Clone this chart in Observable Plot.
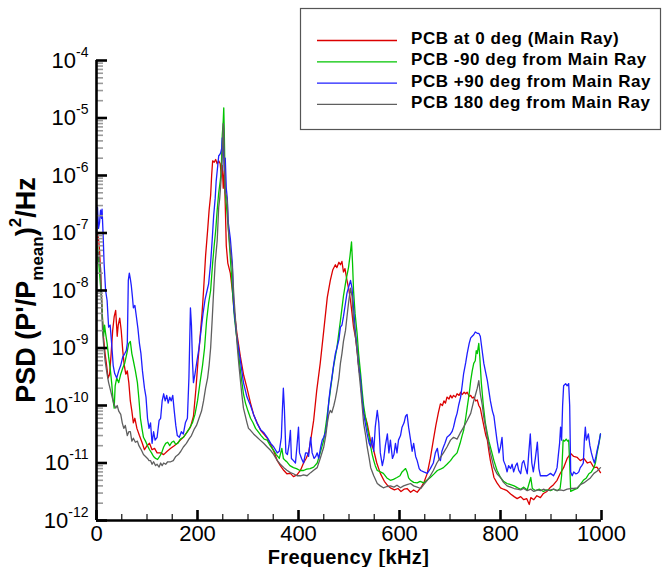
<!DOCTYPE html>
<html><head><meta charset="utf-8">
<style>body{margin:0;background:#fff}svg{display:block}</style>
<script src="https://cdn.jsdelivr.net/npm/d3@7"></script>
<script src="https://cdn.jsdelivr.net/npm/@observablehq/plot@0.6"></script>
</head><body><div id="chart"></div>
<script>
// ---- Data (frequency kHz, PSD value) ----
const seriesNames = ["PCB at 0 deg (Main Ray)", "PCB -90 deg from Main Ray", "PCB +90 deg from Main Ray", "PCB 180 deg from Main Ray"];
const seriesColors = ["#dc0000", "#00c400", "#1e1eff", "#5f5f5f"];
const xTickValues = [0, 200, 400, 600, 800, 1000];
const xMinorTicks = [50, 100, 150, 250, 300, 350, 450, 500, 550, 650, 700, 750, 850, 900, 950];
const yTickValues = [1e-12, 1e-11, 1e-10, 1e-9, 1e-8, 1e-7, 1e-6, 1e-5, 1e-4];
const yMinorMantissas = [2, 3, 4, 5, 6, 7, 8, 9];

const red = [[0,5e-8],[2,1e-7],[4,8e-8],[6,5e-8],[8,2.2e-8],[10,8e-9],[12,3e-9],[14,1.5e-9],[17,8e-10],[20,5e-10],[23,3e-10],[26,3.5e-10],[29,8e-10],[32,2e-9],[35,3.5e-9],[38,4.5e-9],[41,1.6e-9],[43,2.5e-9],[46,3.3e-9],[49,2e-9],[52,9e-10],[55,5e-10],[58,3.5e-10],[61,4e-10],[64,2.5e-10],[67,1.2e-10],[70,8e-11],[73,5e-11],[76,6e-11],[80,4e-11],[85,3e-11],[90,2.3e-11],[95,1.7e-11],[100,2e-11],[105,2.2e-11],[110,1.7e-11],[115,1.8e-11],[120,1.5e-11],[127,1.5e-11],[133,1.4e-11],[140,1.6e-11],[147,1.8e-11],[154,2e-11],[160,2.2e-11],[166,2.5e-11],[172,2.8e-11],[180,3.5e-11],[186,4.2e-11],[192,6.5e-11],[197,2e-10],[201,6e-10],[205,1.5e-9],[209,4e-9],[212,1e-8],[216,4e-8],[220,1.1e-7],[223,2.5e-7],[226,4.5e-7],[228,1e-6],[230,1.8e-6],[233,1.7e-6],[236,1.9e-6],[239,1.6e-6],[242,1.8e-6],[245,1.6e-6],[247,1e-6],[249,1.5e-6],[251,6e-7],[253,1.2e-6],[255,3e-7],[257,6e-8],[260,3e-8],[265,2e-8],[269,1e-8],[272,5e-9],[278,1.8e-9],[285,7e-10],[291,3.5e-10],[298,2e-10],[305,1.1e-10],[311,7e-11],[318,5e-11],[325,3.7e-11],[331,3.2e-11],[338,2.7e-11],[345,2.1e-11],[351,1.6e-11],[358,1.1e-11],[364,9e-12],[371,7.4e-12],[377,6.5e-12],[384,6.6e-12],[390,5.8e-12],[397,6.2e-12],[404,7.5e-12],[410,1e-11],[415,1.2e-11],[420,1.5e-11],[425,2.8e-11],[430,5.5e-11],[436,1.8e-10],[443,5.4e-10],[450,2e-9],[457,7.6e-9],[463,1.5e-8],[468,2.3e-8],[473,2.8e-8],[476,2.5e-8],[480,3.1e-8],[483,2.8e-8],[486,3.2e-8],[489,2.1e-8],[492,2.4e-8],[496,1.5e-8],[500,1e-8],[503,6.7e-9],[506,4e-9],[509,2.3e-9],[513,1.5e-9],[516,9e-10],[519,5e-10],[523,2.7e-10],[526,1.3e-10],[529,7.3e-11],[533,6e-11],[536,4.9e-11],[542,2.6e-11],[549,1.65e-11],[555,1e-11],[562,6.6e-12],[570,4.8e-12],[577,4e-12],[582,3.7e-12],[590,3.4e-12],[597,3.6e-12],[603,3.2e-12],[609,3.5e-12],[615,3.6e-12],[622,3.1e-12],[628,3.4e-12],[635,3.1e-12],[642,3.7e-12],[648,4.5e-12],[655,6.6e-12],[661,1.2e-11],[667,2.5e-11],[672,4.5e-11],[677,7.5e-11],[681,1.07e-10],[685,1e-10],[688,1.2e-10],[691,1.1e-10],[694,1.4e-10],[698,1.3e-10],[701,1.5e-10],[704,1.35e-10],[707,1.5e-10],[711,1.4e-10],[714,1.6e-10],[718,1.5e-10],[721,1.7e-10],[724,1.55e-10],[728,1.7e-10],[731,1.6e-10],[734,1.7e-10],[738,1.45e-10],[741,1.5e-10],[744,1.35e-10],[747,1.4e-10],[751,1.2e-10],[754,1.25e-10],[757,1e-10],[760,9e-11],[764,6e-11],[768,4e-11],[771,3e-11],[774,2.5e-11],[777,1.6e-11],[780,1.1e-11],[784,7.5e-12],[787,5.6e-12],[793,4.5e-12],[800,3.7e-12],[806,3.5e-12],[813,3.3e-12],[820,2.9e-12],[827,2.6e-12],[833,2.4e-12],[840,2.6e-12],[846,2.3e-12],[852,2.4e-12],[857,1.9e-12],[860,2.5e-12],[866,2.3e-12],[872,2.7e-12],[879,2.5e-12],[885,2.95e-12],[892,3.2e-12],[899,3.8e-12],[905,4.2e-12],[912,5e-12],[918,6.5e-12],[925,8.3e-12],[932,1.2e-11],[939,1.46e-11],[945,1.3e-11],[952,1.25e-11],[958,1.1e-11],[965,1.2e-11],[972,1e-11],[978,1.05e-11],[985,8.3e-12],[991,8.5e-12],[998,6.8e-12]];

const green = [[0,3e-8],[2,6e-8],[4,3.5e-8],[6,2e-8],[8,1.2e-8],[10,7e-9],[12,3e-9],[14,1.6e-9],[16,2.5e-9],[18,1.8e-9],[21,1.2e-9],[24,7e-10],[27,4.5e-10],[30,2.5e-10],[33,1.2e-10],[35,9e-11],[37,2.2e-10],[40,3e-10],[44,2.5e-10],[48,3.5e-10],[52,4.5e-10],[56,5.5e-10],[60,8e-10],[64,1.2e-9],[67,1.3e-9],[70,8e-10],[73,6e-10],[77,4e-10],[81,2.5e-10],[84,1.3e-10],[87,6e-11],[90,4e-11],[93,2.8e-11],[97,2.4e-11],[101,2e-11],[105,1.7e-11],[109,1.5e-11],[113,1.3e-11],[117,1.2e-11],[121,1.15e-11],[125,1.3e-11],[129,1.5e-11],[133,1.9e-11],[137,2.2e-11],[141,2.3e-11],[145,2e-11],[149,2.3e-11],[153,2.4e-11],[157,2.1e-11],[161,2.2e-11],[166,2.6e-11],[172,2.8e-11],[178,3.3e-11],[184,4e-11],[190,5e-11],[195,7e-11],[200,1.2e-10],[205,2.5e-10],[210,5e-10],[214,1e-9],[218,3e-9],[222,6e-9],[226,1e-8],[230,3e-8],[233,6e-8],[236,1.1e-7],[239,2.5e-7],[242,5e-7],[245,8e-7],[247,1.2e-6],[249,5e-6],[251,9e-6],[252,1.5e-5],[253,6e-6],[255,5e-7],[258,2.5e-7],[261,1.2e-7],[264,5e-8],[267,2e-8],[270,8e-9],[273,3.5e-9],[276,2e-9],[279,1.2e-9],[282,7e-10],[285,4e-10],[288,2.5e-10],[291,1.6e-10],[295,1.1e-10],[300,8e-11],[305,6e-11],[310,5e-11],[315,4e-11],[320,3.5e-11],[326,3e-11],[332,2.6e-11],[338,2.5e-11],[344,2e-11],[351,1.65e-11],[356,1.4e-11],[362,1.2e-11],[367,1.8e-11],[370,1.2e-11],[374,1.1e-11],[377,1.05e-11],[383,9e-12],[390,8.3e-12],[396,8e-12],[403,7.4e-12],[410,7.4e-12],[416,7.8e-12],[423,8e-12],[430,8.5e-12],[437,1e-11],[443,1.5e-11],[450,2.5e-11],[456,6e-11],[463,1.8e-10],[469,4.5e-10],[476,1e-9],[483,3e-9],[489,8e-9],[494,1.5e-8],[499,2.5e-8],[502,4e-8],[505,7e-8],[507,3e-8],[509,1e-8],[512,4e-9],[516,1.8e-9],[519,8e-10],[523,3.6e-10],[526,1.8e-10],[529,1e-10],[533,6e-11],[536,4.2e-11],[540,2.8e-11],[543,1.9e-11],[546,1.4e-11],[549,1.1e-11],[552,9e-12],[556,7.4e-12],[562,7e-12],[568,6.6e-12],[575,5.5e-12],[582,5e-12],[588,5.2e-12],[595,5.6e-12],[601,6e-12],[605,7e-12],[608,7.4e-12],[612,8e-12],[615,7e-12],[618,5.5e-12],[622,5e-12],[628,4.6e-12],[635,4.5e-12],[641,4.8e-12],[648,4.5e-12],[654,5e-12],[661,5.6e-12],[668,6.4e-12],[675,7.4e-12],[681,7.8e-12],[687,8.3e-12],[694,9.5e-12],[701,1.1e-11],[707,1.3e-11],[714,1.5e-11],[720,2.2e-11],[724,3e-11],[727,3.7e-11],[731,6e-11],[734,9.2e-11],[738,1.6e-10],[741,2.7e-10],[744,4e-10],[747,5.4e-10],[750,6e-10],[752,9e-10],[754,8e-10],[757,1.2e-9],[759,7e-10],[762,2.5e-10],[766,1e-10],[770,5e-11],[774,3.2e-11],[777,2.4e-11],[780,1.9e-11],[784,1.4e-11],[787,1.1e-11],[793,7.5e-12],[800,5.6e-12],[806,4.8e-12],[813,4.4e-12],[820,4.2e-12],[827,4e-12],[834,3.7e-12],[840,3.5e-12],[846,3.8e-12],[853,3.4e-12],[860,5.6e-12],[863,3.6e-12],[870,3.3e-12],[877,3.5e-12],[885,3.2e-12],[892,3.4e-12],[899,3.3e-12],[905,3.5e-12],[912,3.3e-12],[918,3.6e-12],[921,6e-12],[924,2.5e-11],[927,2.4e-11],[930,2.6e-11],[933,2.4e-11],[935,2.5e-11],[937,1e-11],[939,3.2e-12],[945,3.4e-12],[952,3.6e-12],[958,4.2e-12],[964,5e-12],[970,5.5e-12],[975,6.5e-12],[980,7e-12],[985,8.3e-12],[988,1e-11],[991,1.45e-11],[995,2.2e-11],[998,3.2e-11]];

const blue = [[0,1e-7],[2,2.8e-7],[4,1.2e-7],[6,1.5e-7],[8,2.5e-7],[10,1.8e-7],[11,2.6e-7],[13,1e-7],[15,3e-8],[18,1e-8],[21,6.7e-9],[24,2.3e-9],[27,2.5e-9],[30,1.2e-9],[33,5e-10],[36,3.6e-10],[40,3e-10],[44,4e-10],[48,5e-10],[52,7e-10],[56,8e-10],[59,9e-10],[61,1.2e-9],[63,1.5e-8],[65,2e-8],[67,1.6e-8],[69,1.2e-8],[71,8e-9],[73,5e-9],[76,5.5e-9],[79,3.5e-9],[82,2.2e-9],[85,1.2e-9],[88,8e-10],[91,4e-10],[95,2e-10],[98,1.4e-10],[101,6e-11],[104,4e-11],[107,5e-11],[110,2.2e-11],[113,3.5e-11],[116,2.5e-11],[120,2.8e-11],[124,5.5e-11],[127,6e-11],[130,1.2e-10],[133,1.6e-10],[136,1.2e-10],[139,1.5e-10],[142,1.1e-10],[145,1.4e-10],[148,1.2e-10],[151,1.5e-10],[154,8e-11],[157,4.5e-11],[160,3e-11],[164,2.8e-11],[168,3.5e-11],[172,3.2e-11],[176,5e-11],[180,6e-11],[183,3e-10],[186,5e-9],[188,2.5e-9],[190,6e-10],[192,2.5e-10],[195,3.5e-10],[199,6e-10],[203,1e-9],[207,2e-9],[211,4e-9],[215,7e-9],[219,1e-8],[222,1.3e-8],[226,3e-8],[229,7.4e-8],[232,2e-7],[235,4e-7],[237,8e-7],[239,1.2e-6],[242,2.2e-6],[244,2.3e-6],[246,2.5e-6],[248,3e-6],[249,4.5e-6],[251,3.5e-6],[253,1.2e-6],[255,2e-6],[257,6e-7],[259,4e-7],[261,1.5e-7],[265,8e-8],[269,3e-8],[272,5e-9],[278,1.5e-9],[285,6e-10],[291,2.5e-10],[298,1.4e-10],[305,1e-10],[311,7e-11],[318,4.9e-11],[325,3.8e-11],[331,3.4e-11],[338,2.8e-11],[345,2.2e-11],[351,1.9e-11],[358,1.5e-11],[362,1.6e-11],[366,2.8e-11],[368,8e-11],[370,2e-10],[372,9e-11],[375,1.5e-11],[378,1.4e-11],[381,2e-11],[384,3.7e-11],[386,1.2e-11],[390,1.1e-11],[394,1e-11],[397,2e-11],[400,4.2e-11],[402,1.5e-11],[406,1.2e-11],[410,1e-11],[414,1.5e-11],[417,1.5e-11],[420,1.3e-11],[424,2.8e-11],[427,1.5e-11],[431,1.2e-11],[434,1.3e-11],[437,1.5e-11],[440,1.2e-11],[444,1.9e-11],[447,2.5e-11],[450,2.8e-11],[454,3.5e-11],[457,5.5e-11],[460,1.2e-10],[463,2e-10],[466,3e-10],[470,5.4e-10],[473,8e-10],[476,1e-9],[480,1.4e-9],[483,2.3e-9],[486,2.5e-9],[489,3.5e-9],[493,6e-9],[496,9e-9],[500,1.2e-8],[503,1.5e-8],[506,1.1e-8],[509,5e-9],[512,2.2e-9],[516,1e-9],[519,5e-10],[523,2.7e-10],[526,1.3e-10],[529,7.3e-11],[533,4.5e-11],[536,3.2e-11],[540,2.2e-11],[543,1.9e-11],[546,2.8e-11],[549,1.6e-11],[552,4.2e-11],[556,8.2e-11],[559,5e-11],[562,1.5e-11],[566,9e-12],[569,1.2e-11],[572,2e-11],[576,3.2e-11],[579,1.5e-11],[582,2.5e-11],[586,1.2e-11],[589,1.4e-11],[592,2.2e-11],[595,1.5e-11],[598,2.5e-11],[602,3e-11],[605,4.2e-11],[609,5e-11],[612,6.5e-11],[615,7e-11],[618,4.2e-11],[622,2.5e-11],[625,1.6e-11],[628,2.2e-11],[632,1.3e-11],[635,1.1e-11],[639,8e-12],[642,7.4e-12],[648,7e-12],[655,6.6e-12],[661,8e-12],[667,1e-11],[671,1.5e-11],[675,1.8e-11],[678,1.2e-11],[681,1.1e-11],[684,1.6e-11],[687,1.9e-11],[690,2.2e-11],[694,2.8e-11],[698,3e-11],[701,3.2e-11],[704,3.5e-11],[707,4.2e-11],[711,6e-11],[714,7.3e-11],[717,1e-10],[721,1.4e-10],[724,2.2e-10],[727,3.6e-10],[731,5.5e-10],[734,8e-10],[738,1.2e-9],[741,1.5e-9],[744,1.6e-9],[747,1.7e-9],[750,1.9e-9],[754,1.8e-9],[757,1.8e-9],[760,1.6e-9],[763,1e-9],[767,5.4e-10],[770,4e-10],[774,2.7e-10],[777,1.8e-10],[780,1.2e-10],[784,8e-11],[787,6.5e-11],[790,4e-11],[793,2.5e-11],[797,1.5e-11],[800,1.9e-11],[803,2.8e-11],[806,1.1e-11],[810,9e-12],[813,7e-12],[816,9e-12],[820,8e-12],[823,9.5e-12],[826,7e-12],[830,9e-12],[833,1e-11],[836,7.5e-12],[840,6.5e-12],[843,1e-11],[846,1.1e-11],[850,8e-12],[853,6.5e-12],[856,1.5e-11],[859,3.2e-11],[862,1e-11],[865,7e-12],[869,1.2e-11],[873,2.3e-11],[876,8e-12],[879,6e-12],[885,6e-12],[892,6e-12],[899,6.6e-12],[905,6e-12],[909,7e-12],[912,8.3e-12],[915,1.5e-11],[917,2.2e-11],[919,4.2e-11],[921,2.5e-11],[923,1e-10],[925,2.2e-10],[929,2.4e-10],[932,2.2e-10],[935,2.4e-10],[937,1e-10],[939,7e-12],[942,6e-12],[945,7e-12],[949,6.5e-12],[952,6.6e-12],[955,7e-12],[958,8.3e-12],[961,9e-12],[964,1e-11],[966,2.5e-11],[968,4.2e-11],[970,2.5e-11],[972,2.8e-11],[974,3.2e-11],[977,2e-11],[980,1.5e-11],[983,1.2e-11],[986,1e-11],[989,1.3e-11],[991,1.6e-11],[995,2.3e-11],[998,3.2e-11]];

const gray = [[0,3e-8],[2,4e-8],[4,4.6e-8],[6,3e-8],[8,2.5e-8],[10,6e-9],[12,2e-9],[14,1.2e-9],[17,6e-10],[21,3.5e-10],[24,2.5e-10],[28,1.8e-10],[31,1.4e-10],[34,1.1e-10],[38,9e-11],[41,1e-10],[44,8e-11],[48,7e-11],[51,5e-11],[54,4e-11],[57,4.5e-11],[61,3e-11],[64,3.5e-11],[67,3.5e-11],[70,2.4e-11],[73,2.7e-11],[77,2.3e-11],[81,2.4e-11],[84,2e-11],[87,1.8e-11],[90,1.6e-11],[93,1.4e-11],[97,1.3e-11],[101,1.2e-11],[104,1.1e-11],[107,1.1e-11],[110,9.5e-12],[113,1.05e-11],[117,9e-12],[120,9.5e-12],[124,8.5e-12],[127,1e-11],[130,9e-12],[133,1e-11],[137,9.5e-12],[141,1.05e-11],[147,1.05e-11],[152,1.1e-11],[157,1.3e-11],[162,1.4e-11],[167,1.6e-11],[172,1.9e-11],[178,2.2e-11],[183,2.6e-11],[188,3e-11],[193,3.8e-11],[198,4.5e-11],[203,6e-11],[208,8e-11],[212,1.2e-10],[216,2e-10],[220,3e-10],[223,5e-10],[226,1e-9],[229,3e-9],[232,1e-8],[235,3e-8],[239,7.4e-8],[242,2.8e-7],[244,4e-7],[246,7e-7],[248,1.2e-6],[249,2e-6],[251,8e-6],[252,6e-6],[253,2e-6],[255,5e-7],[257,4.5e-7],[259,3.5e-7],[261,1.2e-7],[265,5e-8],[269,2.5e-8],[272,8e-9],[276,2.5e-9],[279,1e-9],[282,5e-10],[285,2.7e-10],[288,1.5e-10],[291,9e-11],[294,7e-11],[298,5e-11],[301,4e-11],[305,3.7e-11],[311,3.2e-11],[318,2.8e-11],[324,2.5e-11],[331,2.2e-11],[338,1.9e-11],[345,1.65e-11],[351,1.4e-11],[358,1.1e-11],[364,9.5e-12],[371,8.3e-12],[377,7.5e-12],[384,6.8e-12],[390,6.5e-12],[397,6e-12],[404,6e-12],[410,6.2e-12],[417,6e-12],[424,6.8e-12],[430,7.5e-12],[437,8.3e-12],[443,1.2e-11],[450,1.9e-11],[454,3e-11],[457,4.9e-11],[460,7e-11],[463,8.2e-11],[466,7.5e-11],[470,1e-10],[473,1.3e-10],[476,1.8e-10],[480,3e-10],[483,5.4e-10],[486,8e-10],[489,1.3e-9],[493,2e-9],[496,3.5e-9],[499,6e-9],[503,1.1e-8],[506,8e-9],[509,3e-9],[512,1.8e-9],[516,9e-10],[519,4.5e-10],[523,2e-10],[526,1e-10],[529,4.9e-11],[533,3e-11],[536,1.9e-11],[540,1.2e-11],[543,8.3e-12],[549,6e-12],[556,4.4e-12],[562,4e-12],[568,3.7e-12],[575,3.9e-12],[582,4e-12],[589,3.8e-12],[595,4.1e-12],[602,3.7e-12],[608,4e-12],[615,4.2e-12],[622,4.4e-12],[628,4e-12],[635,3.8e-12],[642,3.6e-12],[648,4.2e-12],[655,5e-12],[661,6e-12],[667,7.4e-12],[674,1e-11],[681,1.25e-11],[687,1.5e-11],[694,1.9e-11],[701,2.5e-11],[707,2.8e-11],[714,2.6e-11],[720,3.3e-11],[727,4.2e-11],[734,5.5e-11],[741,7.3e-11],[747,1.2e-10],[751,1.6e-10],[754,2e-10],[757,2.7e-10],[760,1.6e-10],[764,1e-10],[767,6.2e-11],[771,4e-11],[774,2.8e-11],[780,1.5e-11],[787,8.3e-12],[793,6.5e-12],[800,5.6e-12],[806,4.6e-12],[813,4e-12],[820,3.8e-12],[827,3.6e-12],[833,3.5e-12],[840,3.4e-12],[846,3.6e-12],[853,3.3e-12],[860,3.5e-12],[866,3.2e-12],[873,3.4e-12],[879,3.3e-12],[885,3.5e-12],[892,3.3e-12],[899,3.4e-12],[905,3.5e-12],[912,3.3e-12],[918,3.4e-12],[925,3.3e-12],[932,3.5e-12],[939,3.6e-12],[945,3.6e-12],[952,3.7e-12],[958,4.2e-12],[965,4.5e-12],[972,5e-12],[978,5.5e-12],[985,6.6e-12],[991,7.2e-12],[998,8.3e-12]];

const allSeries = [red, green, blue, gray];
const yMinorTicks = yTickValues.slice(0, -1).flatMap(d => yMinorMantissas.map(m => m * d));

const W = 662, H = 567, ML = 96, MR = 61, MT = 60, MB = 47;
const plotW = W - ML - MR, plotH = H - MT - MB;
const FONT = "'Liberation Sans', Arial, Helvetica, sans-serif";

const chart = Plot.plot({
  width: W, height: H,
  marginLeft: ML, marginRight: MR, marginTop: MT, marginBottom: MB,
  style: {fontFamily: FONT, background: "#fff", color: "#000", overflow: "visible"},
  x: {domain: [0, 1000]},
  y: {type: "log", domain: [1e-12, 1e-4]},
  marks: [
    ...allSeries.map((s, i) => Plot.line(s, {x: d => d[0], y: d => d[1], stroke: seriesColors[i], strokeWidth: 1.3})),
    // minor/major ticks (inward)
    Plot.tickY(yMinorTicks, {y: d => d, stroke: "#9a9a9a", strokeWidth: 1.6, insetRight: plotW - 7}),
    Plot.tickY(yTickValues, {y: d => d, stroke: "#000", strokeWidth: 2.6, insetRight: plotW - 11}),
    Plot.tickX(xMinorTicks, {x: d => d, stroke: "#222", strokeWidth: 1.3, insetTop: plotH - 6}),
    Plot.tickX(xTickValues, {x: d => d, stroke: "#000", strokeWidth: 2.6, insetTop: plotH - 10}),
    Plot.ruleX([0], {stroke: "#000", strokeWidth: 2.6}),
    Plot.ruleY([1e-12], {stroke: "#000", strokeWidth: 2.6}),
    Plot.axisX({ticks: xTickValues, tickSize: 0, tickPadding: 5, fontSize: 22, label: null, tickFormat: d => String(d)}),
    Plot.axisY({ticks: yTickValues, tickSize: 0, tickPadding: 8, fontSize: 22, label: null,
      tickFormat: d => "10^" + Math.round(Math.log10(d))})
  ]
});

const svg = d3.select(chart);
// superscript exponents on y tick labels
svg.selectAll("text").each(function () {
  const m = /^10\^(-?\d+)$/.exec(this.textContent);
  if (!m) return;
  const t = d3.select(this);
  t.text(null);
  t.append("tspan").text("10");
  t.append("tspan").attr("dy", -11).attr("font-size", 14).text(m[1]);
});

// axis titles
svg.append("text")
  .attr("x", ML + plotW / 2).attr("y", 564)
  .attr("text-anchor", "middle").attr("font-family", FONT)
  .attr("font-weight", "bold").attr("font-size", 20).attr("letter-spacing", 0.4)
  .text("Frequency [kHz]");

const yt = svg.append("text")
  .attr("transform", `translate(35,${MT + plotH / 2}) rotate(-90)`)
  .attr("text-anchor", "middle").attr("font-family", FONT)
  .attr("font-weight", "bold").attr("font-size", 27);
yt.append("tspan").text("PSD (P'/P");
yt.append("tspan").attr("dy", 8).attr("font-size", 17).text("mean");
yt.append("tspan").attr("dy", -8).text(")");
yt.append("tspan").attr("dy", -14).attr("font-size", 17).text("2");
yt.append("tspan").attr("dy", 14).text("/Hz");

// legend
const lg = svg.append("g");
lg.append("rect").attr("x", 300.5).attr("y", 8.5).attr("width", 360).attr("height", 121)
  .attr("fill", "#fff").attr("stroke", "#555").attr("stroke-width", 1.2);
seriesNames.forEach((name, i) => {
  const yy = 40.5 + i * 21.3;
  lg.append("line").attr("x1", 317).attr("x2", 397).attr("y1", yy).attr("y2", yy)
    .attr("stroke", seriesColors[i]).attr("stroke-width", 1.3);
  lg.append("text").attr("x", 411).attr("y", yy + 3.5)
    .attr("text-anchor", "start")
    .attr("font-family", FONT).attr("font-weight", "bold").attr("font-size", 17)
    .attr("letter-spacing", 0.55)
    .text(name);
});

document.getElementById("chart").appendChild(chart);
</script>
</body></html>
